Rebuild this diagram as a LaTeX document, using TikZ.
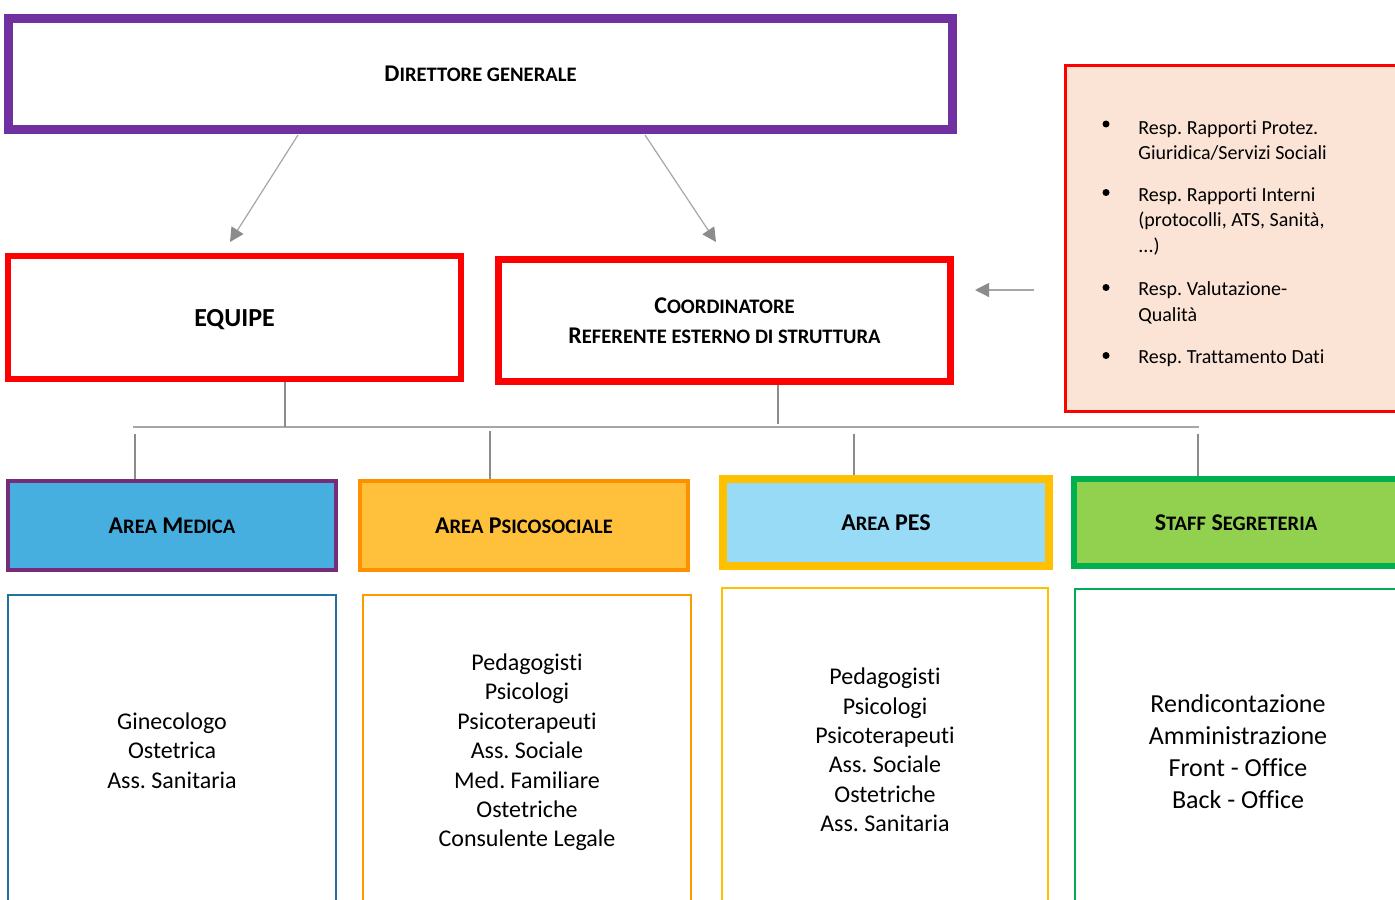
\documentclass[tikz,border=0pt]{standalone}
\usepackage{fontspec}
\setmainfont{Carlito}[Ligatures=CommonOff]
\frenchspacing
\usetikzlibrary{calc}
\usetikzlibrary{positioning}
\usetikzlibrary{arrows.meta}
\definecolor{Viola}{HTML}{7030A0}
\definecolor{Rosso}{HTML}{FF0000}
\definecolor{Pesca}{HTML}{FBE3D6}
\definecolor{MedBordo}{HTML}{772C7A}
\definecolor{MedFondo}{HTML}{47AFE0}
\definecolor{PsiBordo}{HTML}{FF9000}
\definecolor{PsiFondo}{HTML}{FFC03B}
\definecolor{PesBordo}{HTML}{FFC000}
\definecolor{PesFondo}{HTML}{97DBF7}
\definecolor{StfBordo}{HTML}{00B050}
\definecolor{StfFondo}{HTML}{92D050}
\definecolor{MedLista}{HTML}{22719E}
\definecolor{PsiLista}{HTML}{FF9A00}
\definecolor{Linea}{HTML}{A6A6A6}
\definecolor{Freccia}{HTML}{8C8C8C}
% fake small caps: first letter full size, the rest smaller
\newcommand{\fsc}[2]{#1{\fontsize{10.3}{15}\selectfont #2}}
\tikzset{
  % one unit is one pixel of the slide, y grows downwards
  pixel/.style={x=0.5pt,y=-0.5pt},
  % boxes of the chart
  box/.style={draw=#1,rectangle,inner sep=0pt,align=center},
  head/.style={box=Rosso,line width=3pt,font=\bfseries\fontsize{12}{15}\selectfont},
  area/.style 2 args={box=#1,fill=#2,minimum width=164pt,minimum height=44.5pt,
    font=\bfseries\fontsize{12}{15}\selectfont},
  ruoli/.style={box=#1,line width=1pt,minimum width=164pt,minimum height=155.5pt,
    font=\fontsize{12}{14.7}\selectfont},
  % list of the side box
  punto/.style={circle,fill=black,inner sep=0pt,minimum size=3.5pt},
  voce/.style={anchor=west,align=left,inner sep=0pt,font=\fontsize{10}{12.75}\selectfont},
  % connectors
  freccia/.style={Linea,line width=0.6pt,-{Triangle[length=7pt,width=7pt,color=Freccia]}},
  bus/.style={Linea,line width=1pt},
  ramo/.style={Freccia,line width=0.6pt},
}
\begin{document}
\begin{tikzpicture}[pixel]
  \clip (0,0) rectangle (1395,899);
  \fill[white] (0,0) rectangle (1395,899);

  \node[box=Viola,line width=4.5pt,minimum width=472pt,minimum height=55pt,
    font=\bfseries\fontsize{12}{15}\selectfont] (dir) at (480.5,74)
    {\fsc{D}{IRETTORE GENERALE}};
  \node[head,minimum width=226.5pt,minimum height=61.5pt,text depth=0pt,
    font=\bfseries\fontsize{13}{15}\selectfont] (equipe) at (234.5,317.5) {EQUIPE};
  \node[head,line width=3.5pt,minimum width=226pt,minimum height=61pt] (coord) at (724.5,320.5)
    {\fsc{C}{OORDINATORE}\\\fsc{R}{EFERENTE ESTERNO DI STRUTTURA}};

  % side box with the responsibilities
  \node[box=Rosso,line width=1.5pt,fill=Pesca,minimum width=177.25pt,minimum height=173pt]
    (resp) at (1242.75,238.5) {};
  \node[punto] (p1) at (1106,124) {};
  \node[punto] (p2) at (1106,192.5) {};
  \node[punto] (p3) at (1106,287.5) {};
  \node[punto] (p4) at (1106,355.5) {};
  \node[voce] (v1) at (1138,140.5) {Resp. Rapporti Protez.\\Giuridica/Servizi Sociali};
  \node[voce] (v2) at (1138,221.2) {Resp. Rapporti Interni\\(protocolli, ATS, Sanità,\\...)};
  \node[voce] (v3) at (1138,303) {Resp. Valutazione-\\Qualità};
  \node[voce] (v4) at (1138,358.3) {Resp. Trattamento Dati};

  % areas
  \node[area={MedBordo}{MedFondo},line width=2pt] (medA) at (172,525.5)
    {\fsc{A}{REA} \fsc{M}{EDICA}};
  \node[area={PsiBordo}{PsiFondo},line width=2pt] (psiA) at (524,525.5)
    {\fsc{A}{REA} \fsc{P}{SICOSOCIALE}};
  \node[area={PesBordo}{PesFondo},line width=4pt,minimum width=163pt,minimum height=43.5pt]
    (pesA) at (886,522.5) {\fsc{A}{REA} PES};
  \node[area={StfBordo}{StfFondo},line width=3pt,minimum width=162pt,minimum height=43.5pt]
    (stfA) at (1236,522.5) {\fsc{S}{TAFF} \fsc{S}{EGRETERIA}};

  % staff of each area
  \node[ruoli=MedLista,below=11pt of medA] (medL)
    {Ginecologo\\Ostetrica\\Ass. Sanitaria};
  \node[ruoli=PsiLista,below=11pt of psiA,xshift=1.5pt,minimum height=157.5pt] (psiL)
    {Pedagogisti\\Psicologi\\Psicoterapeuti\\Ass. Sociale\\Med. Familiare\\Ostetriche\\Consulente Legale};
  \node[ruoli=PesBordo,below=8.5pt of pesA,xshift=-0.5pt,minimum width=163pt,minimum height=162pt] (pesL)
    {Pedagogisti\\Psicologi\\Psicoterapeuti\\Ass. Sociale\\Ostetriche\\Ass. Sanitaria};
  \node[ruoli=StfBordo,below=9.5pt of stfA,xshift=1pt,minimum width=163pt,minimum height=163pt,
    font=\fontsize{13}{16}\selectfont] (stfL)
    {Rendicontazione\\Amministrazione\\Front - Office\\Back - Office};

  % arrows
  \coordinate (fSx0) at (298,135);
  \coordinate (fSx1) at (230,242);
  \coordinate (fDx0) at (645,135);
  \coordinate (fDx1) at (716,242);
  \coordinate (fRs0) at (1034,290);
  \coordinate (fRs1) at (975,290);
  \draw[freccia] (fSx0) -- (fSx1);
  \draw[freccia] (fDx0) -- (fDx1);
  \draw[freccia] (fRs0) -- (fRs1);

  % tree
  \coordinate (busW) at (133,427);
  \coordinate (busE) at (1199,427);
  \coordinate (nEq) at (285,427);
  \coordinate (nCo) at (778,424);
  \draw[bus] (busW) -- (busE);
  \draw[ramo] (equipe.south -| nEq) -- (nEq);
  \draw[ramo] (coord.south -| nCo) -- (nCo);
  \foreach \n/\x/\y in {medA/135/434,psiA/490/431,pesA/854/434,stfA/1198/434}{
    \coordinate (g\n) at (\x,\y);
    \draw[ramo] (g\n) -- (g\n |- \n.north);
  }
\end{tikzpicture}
\end{document}
